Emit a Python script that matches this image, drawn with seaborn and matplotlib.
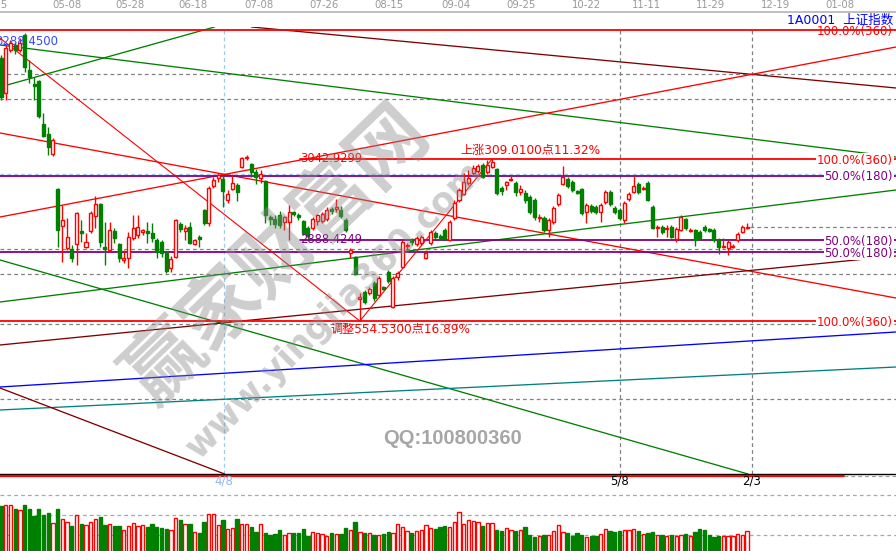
import matplotlib
matplotlib.use("Agg")
import matplotlib.pyplot as plt
import numpy as np
import pandas as pd
import seaborn as sns

sns.set_theme(style="white")
plt.rcParams["font.family"] = ["DejaVu Sans", "Noto Sans CJK SC"]

# ---------------- daily bars: 上证指数 ----------------
opens = [
    3235.6, 3168.8, 3250.8, 3260.4, 3250.8, 3279.4, 3212.7, 3186.0, 3191.7, 3109.7,
    3090.6, 3052.5, 2985.7, 2915.1, 2873.2, 2871.3, 2880.8, 2905.6, 2875.1, 2905.6,
    2934.2, 2957.1, 2875.1, 2869.4, 2905.6, 2880.8, 2850.3, 2854.1, 2892.3, 2898.0,
    2903.7, 2905.6, 2901.8, 2888.4, 2884.6, 2863.6, 2835.0, 2856.0, 2918.9, 2905.6,
    2913.2, 2880.8, 2894.2, 2945.6, 2920.9, 2991.4, 3006.7, 3004.8, 2964.7, 2985.7,
    2993.3, 3027.7, 3044.8, 3033.4, 3018.1, 3006.7, 3000.9, 2932.3, 2928.5, 2936.1,
    2922.8, 2922.8, 2941.8, 2936.1, 2924.7, 2911.3, 2911.3, 2924.7, 2924.7, 2928.5,
    2947.5, 2947.5, 2945.6, 2926.6, 2863.6, 2856.0, 2775.9, 2789.2, 2787.3, 2806.4,
    2783.5, 2798.8, 2827.4, 2760.6, 2817.9, 2836.9, 2877.0, 2888.4, 2880.8, 2882.7,
    2854.1, 2882.7, 2901.8, 2896.1, 2907.5, 2888.4, 2930.4, 2964.7, 2976.1, 2997.1,
    3016.2, 3020.0, 3031.5, 3018.1, 3027.7, 3023.8, 2987.6, 2993.3, 3002.9, 2997.1,
    2979.9, 2978.0, 2970.4, 2964.7, 2930.4, 2930.4, 2907.5, 2922.8, 2957.1, 2995.2,
    3004.8, 2999.0, 2981.9, 2985.7, 2941.8, 2953.3, 2951.4, 2941.8, 2960.9, 2979.9,
    2949.4, 2945.6, 2926.6, 2966.6, 2979.9, 2995.2, 2985.7, 2997.1, 2951.4, 2911.3,
    2913.2, 2909.4, 2913.2, 2890.4, 2907.5, 2928.5, 2905.6, 2907.5, 2903.7, 2913.2,
    2909.4, 2907.5, 2888.4, 2875.1, 2873.2, 2875.1, 2888.4, 2903.7, 2911.3,
]
highs = [
    3241.3, 3260.4, 3269.9, 3266.1, 3273.7, 3283.3, 3231.8, 3199.3, 3193.6, 3130.7,
    3103.9, 3083.0, 2987.6, 2955.2, 2930.4, 2878.9, 2941.8, 2926.6, 2901.8, 2943.7,
    2972.3, 2959.0, 2922.8, 2922.8, 2911.3, 2882.7, 2869.4, 2903.7, 2936.1, 2936.1,
    2909.4, 2922.8, 2920.9, 2892.3, 2888.4, 2867.5, 2857.9, 2928.5, 2922.8, 2917.0,
    2922.8, 2890.4, 2898.0, 2947.5, 2991.4, 3008.6, 3016.2, 3012.4, 2983.8, 3014.3,
    2997.1, 3046.7, 3050.6, 3035.3, 3023.8, 3021.9, 3002.9, 2936.1, 2936.1, 2943.7,
    2934.2, 2955.2, 2943.7, 2939.9, 2926.6, 2915.1, 2932.3, 2938.0, 2941.8, 2951.4,
    2951.4, 2966.6, 2953.3, 2930.4, 2873.2, 2857.9, 2787.3, 2793.1, 2798.8, 2810.2,
    2819.8, 2800.7, 2831.2, 2819.8, 2829.3, 2888.4, 2882.7, 2892.3, 2896.1, 2898.0,
    2869.4, 2907.5, 2905.6, 2899.9, 2911.3, 2926.6, 2964.7, 2987.6, 3016.2, 3021.9,
    3031.5, 3033.4, 3035.3, 3041.0, 3042.93, 3025.8, 2991.4, 3000.9, 3012.4, 3000.9,
    2993.3, 2983.8, 2974.2, 2968.5, 2938.0, 2934.2, 2930.4, 2953.3, 2978.0, 3029.6,
    3008.6, 3002.9, 2983.8, 2987.6, 2959.0, 2957.1, 2955.2, 2959.0, 2983.8, 2983.8,
    2953.3, 2949.4, 2962.8, 2979.9, 3010.5, 2999.0, 2991.4, 3000.9, 2955.2, 2917.0,
    2917.0, 2917.0, 2917.0, 2913.2, 2936.1, 2930.4, 2911.3, 2909.4, 2907.5, 2917.0,
    2911.3, 2911.3, 2892.3, 2892.3, 2888.4, 2880.8, 2903.7, 2917.0, 2920.9,
]
lows = [
    3155.5, 3155.5, 3247.0, 3243.2, 3247.0, 3208.9, 3187.9, 3155.5, 3121.1, 3084.9,
    3050.6, 3048.6, 2875.1, 2846.5, 2869.4, 2846.5, 2840.8, 2884.6, 2873.2, 2901.8,
    2911.3, 2875.1, 2840.8, 2865.6, 2882.7, 2846.5, 2844.6, 2835.0, 2888.4, 2892.3,
    2898.0, 2882.7, 2884.6, 2854.1, 2856.0, 2825.5, 2827.4, 2854.1, 2903.7, 2888.4,
    2880.8, 2878.9, 2875.1, 2917.0, 2915.1, 2987.6, 2999.0, 2951.4, 2959.0, 2983.8,
    2962.8, 3025.8, 3041.0, 3008.6, 2995.2, 2997.1, 2920.9, 2917.0, 2911.3, 2911.3,
    2907.5, 2888.4, 2934.2, 2926.6, 2898.0, 2888.4, 2907.5, 2917.0, 2920.9, 2924.7,
    2938.0, 2941.8, 2930.4, 2903.7, 2854.1, 2821.7, 2733.92, 2766.3, 2783.5, 2772.1,
    2779.7, 2793.1, 2806.4, 2758.7, 2812.2, 2835.0, 2869.4, 2878.9, 2877.0, 2878.9,
    2852.2, 2878.9, 2888.4, 2888.4, 2888.4, 2886.5, 2926.6, 2960.9, 2974.2, 2993.3,
    3012.4, 3016.2, 3006.7, 3014.3, 3025.8, 2974.2, 2974.2, 2983.8, 3000.9, 2972.3,
    2974.2, 2959.0, 2938.0, 2926.6, 2922.8, 2903.7, 2894.2, 2918.9, 2953.3, 2993.3,
    2987.6, 2979.9, 2976.1, 2936.1, 2920.9, 2939.9, 2938.0, 2922.8, 2957.1, 2953.3,
    2938.0, 2926.6, 2920.9, 2962.8, 2978.0, 2976.1, 2983.8, 2962.8, 2909.4, 2894.2,
    2899.9, 2894.2, 2892.3, 2884.6, 2905.6, 2907.5, 2903.7, 2877.0, 2888.4, 2903.7,
    2903.7, 2884.6, 2861.7, 2873.2, 2859.8, 2873.2, 2884.6, 2901.8, 2909.4,
]
closes = [
    3161.2, 3254.7, 3264.2, 3250.8, 3264.2, 3218.4, 3199.3, 3182.2, 3124.9, 3086.8,
    3065.8, 3079.2, 2907.5, 2926.6, 2894.2, 2854.1, 2939.9, 2901.8, 2884.6, 2939.9,
    2957.1, 2884.6, 2871.3, 2907.5, 2892.3, 2854.1, 2854.1, 2894.2, 2911.3, 2913.2,
    2907.5, 2901.8, 2892.3, 2865.6, 2863.6, 2829.3, 2852.2, 2926.6, 2909.4, 2911.3,
    2882.7, 2888.4, 2890.4, 2920.9, 2987.6, 3002.9, 3012.4, 2981.9, 2976.1, 2997.1,
    2979.9, 3044.8, 3046.7, 3018.1, 3008.6, 3014.3, 2936.1, 2928.5, 2918.9, 2917.0,
    2932.3, 2941.8, 2938.0, 2932.3, 2901.8, 2896.1, 2928.5, 2936.1, 2938.0, 2945.6,
    2943.7, 2951.4, 2934.2, 2907.5, 2869.4, 2823.6, 2779.7, 2770.2, 2795.0, 2777.8,
    2816.0, 2795.0, 2810.2, 2816.0, 2825.5, 2884.6, 2878.9, 2884.6, 2892.3, 2894.2,
    2863.6, 2903.7, 2894.2, 2892.3, 2890.4, 2922.8, 2959.0, 2983.8, 2999.0, 3006.7,
    3025.8, 3029.6, 3008.6, 3031.5, 3037.2, 2978.0, 2981.9, 2999.0, 3004.8, 2979.9,
    2985.7, 2964.7, 2941.8, 2932.3, 2932.3, 2907.5, 2926.6, 2949.4, 2974.2, 3008.6,
    2991.4, 2983.8, 2978.0, 2939.9, 2955.2, 2943.7, 2941.8, 2955.2, 2979.9, 2957.1,
    2941.8, 2930.4, 2959.0, 2976.1, 2991.4, 2979.9, 2987.6, 2964.7, 2911.3, 2913.2,
    2903.7, 2911.3, 2894.2, 2909.4, 2932.3, 2911.3, 2907.5, 2888.4, 2892.3, 2907.5,
    2905.6, 2888.4, 2875.1, 2877.0, 2884.6, 2877.0, 2899.9, 2913.2, 2913.2,
]
volumes = [
    245, 250, 250, 230, 225, 250, 230, 195, 230, 200,
    210, 160, 230, 180, 165, 145, 200, 155, 150, 165,
    180, 190, 150, 155, 145, 145, 125, 145, 160, 145,
    150, 140, 155, 140, 135, 130, 125, 185, 175, 155,
    155, 115, 110, 165, 205, 205, 150, 175, 130,
    135, 180, 155, 155, 140, 115, 155, 110, 100,
    105, 125, 100, 110, 110, 110, 130, 95, 115, 110,
    105, 95, 110, 105, 105, 135, 125, 165, 115, 110,
    110, 100, 100, 105, 115, 110, 155, 140, 120, 110,
    120, 125, 150, 135, 130, 140, 145,
    140, 165, 215, 155, 175, 170, 165, 145, 160, 160,
    125, 120, 135, 125, 120, 125, 140, 100, 90, 95,
    100, 100, 120, 150, 115, 110, 95, 110, 100, 90,
    95, 95, 105, 130, 120, 115, 120, 125, 125, 130,
    120, 105, 110, 115, 100, 100, 95, 100, 95, 100,
    105, 95, 115, 130, 125, 100, 90, 95, 95, 95,
    95, 105, 100, 120,
]

# top date axis
date_labels = ["04-15", "05-08", "05-28", "06-18", "07-08", "07-26", "08-15",
               "09-04", "09-25", "10-22", "11-11", "11-29", "12-19", "01-08"]
date_pos = [-1.6, 13.98, 27.32, 40.66, 54.64, 68.40, 82.17,
            96.36, 110.12, 123.89, 136.60, 150.36, 164.13, 177.69]

# time-cycle markers
cycle_labels = ["4/8", "5/8", "2/3"]
cycle_pos = [47.23, 131.09, 159.04]

# swing points (bar index, price)
swing_idx = [-2.33, 76, 104]
swing_price = [3288.45, 2733.92, 3042.9299]
swing_labels = ["3288.4500", "3042.9299"]
move_labels = ["上涨309.0100点11.32%", "调整554.5300点16.89%"]

# percentage levels
level_values = [3288.45, 3042.9299, 3011.19, 2888.4249, 2865.5, 2733.92]
level_texts = ["100.0%(360)", "100.0%(360)", "50.0%(180)", "50.0%(180)", "50.0%(180)", "100.0%(360)"]
level_start = [None, 63.3, None, 63.3, None, None]
level_kind = ["full", "full", "half", "half", "half", "full"]

grid_levels = [3205.1, 3157.4, 2871.3, 2823.6, 2728.2, 2585.1]
cursor_level = 3014.3

# angle lines through two anchor points (bar index, price)
angle_x0 = [-0.212, -0.212, 55.27, -0.212, -0.212, -0.212, -0.212, -0.212, -0.212, -0.212, -0.212]
angle_p0 = [3180.27, 3260.38, 3292.81, 2932.29, 3092.52, 2770.15, 2850.27, 2688.13, 2608.02, 2564.14, 2606.11]
angle_x1 = [44.47, 189.55, 189.55, 189.55, 189.55, 189.55, 158.2, 189.55, 189.55, 189.55, 46.8]
angle_p1 = [3292.81, 3046.74, 3178.36, 3256.57, 2777.78, 2983.79, 2442.06, 2857.9, 2712.93, 2646.17, 2443.97]
angle_colors = ["#008000", "#008000", "#800000", "#ff0000", "#ff0000", "#008000",
                "#008000", "#800000", "#0000ff", "#008080", "#800000"]

RED, GREEN, PURPLE = "#ff0000", "#008000", "#800080"

df = pd.DataFrame({"open": opens, "high": highs, "low": lows,
                   "close": closes, "volume": volumes})
df["idx"] = np.arange(len(df))
df["up"] = df["close"] >= df["open"]
edge = np.where(df["up"], RED, GREEN)
face = np.where(df["up"], "white", GREEN)

W, H = 896, 551
fig = plt.figure(figsize=(W / 100, H / 100), dpi=100)
fig.patch.set_facecolor("white")


def band(top_px, bottom_px):
    return [0, 1 - bottom_px / H, 1, (bottom_px - top_px) / H]


XMIN, XMAX = -0.212, 189.55
ax = fig.add_axes(band(27, 474))
axv = fig.add_axes(band(490, 551))
axt = fig.add_axes(band(0, 12))
for a in (ax, axv, axt):
    a.set_xlim(XMIN, XMAX)
    a.set_xticks([])
    a.set_yticks([])
    a.set_facecolor("none")
    for s in a.spines.values():
        s.set_visible(False)
ax.set_ylim(2442.06, 3294.7)
axv.set_ylim(20, 325)
axt.set_ylim(0, 1)

# ---- top date strip ----
axt.spines["bottom"].set_visible(True)
axt.spines["bottom"].set_color("#b4b4b4")
axt.spines["bottom"].set_linewidth(1.2)
for lab, pos in zip(date_labels, date_pos):
    axt.text(pos, 0.55, lab, ha="center", va="center", fontsize=7.3, color="#9a9a9a")

fig.text(893 / W, 1 - 20 / H, "1A0001  上证指数", ha="right", va="center",
         fontsize=9, color="#0000ff")

# ---- price panel ----
ax.spines["bottom"].set_visible(True)
ax.spines["bottom"].set_color("black")
ax.spines["bottom"].set_linewidth(1.0)
ax.plot([0, 844 / W], [-0.0035, -0.0035], transform=ax.transAxes, color=RED,
        lw=1.6, clip_on=False, zorder=3)
ax.plot([844 / W, 1], [-0.0035, -0.0035], transform=ax.transAxes, color="#a0a0a0",
        lw=0.9, ls=(0, (3, 2.5)), clip_on=False, zorder=3)

dash = (0, (3, 2.5))
for g in grid_levels:
    ax.axhline(g, color="#808080", lw=0.9, ls=dash, zorder=1)
ax.axhline(cursor_level, color="#9cc8f4", lw=0.9, ls=dash, zorder=1)
last_close = df["close"].iloc[-1]
ax.plot([158.6, XMAX], [last_close, last_close], color="#808080", lw=0.9, ls=dash, zorder=1)

for pos, lab in zip(cycle_pos, cycle_labels):
    c = "#9cc8f4" if lab == "4/8" else "#808080"
    ax.axvline(pos, color=c, lw=0.9, ls=dash, zorder=1)
    ax.annotate(lab, xy=(pos, 0), xycoords=("data", "axes fraction"),
                xytext=(0, -5.2), textcoords="offset points", ha="center", va="center",
                fontsize=8.5, color="#8fb8e8" if lab == "4/8" else "black",
                annotation_clip=False)

for x0, p0, x1, p1, c in zip(angle_x0, angle_p0, angle_x1, angle_p1, angle_colors):
    ax.axline((x0, p0), (x1, p1), color=c, lw=0.95, zorder=2)

for val, start, kind in zip(level_values, level_start, level_kind):
    c = RED if kind == "full" else PURPLE
    x0 = XMIN if start is None else start
    ax.plot([x0, XMAX], [val, val], color=c, lw=1.3, zorder=3)

sns.lineplot(x=swing_idx, y=swing_price, ax=ax, color=RED, lw=0.8, sort=False,
             estimator=None, zorder=4)

# swing-high label sits under the candles
ax.annotate(swing_labels[0], xy=(-1.27, swing_price[0]), xytext=(0, -3.6),
            textcoords="offset points", ha="left", va="top", fontsize=8.5,
            color="#2f4dff", zorder=5.5, annotation_clip=False)

# candles
ax.vlines(df["idx"], df["low"], df["high"], colors=edge, lw=1.0, zorder=5)
body_lo = np.minimum(df["open"], df["close"])
body_h = np.maximum((df["close"] - df["open"]).abs(), 0.6)
ax.bar(df["idx"], body_h, bottom=body_lo, width=0.64, color=face,
       edgecolor=edge, linewidth=1.0, zorder=6)

# level labels on the right
for val, txt, kind in zip(level_values, level_texts, level_kind):
    c = RED if kind == "full" else PURPLE
    box = None if val == level_values[0] else dict(facecolor="white", edgecolor="none", pad=0.4)
    ax.annotate(txt, xy=(1, val), xycoords=("axes fraction", "data"),
                xytext=(-2.2, -0.8), textcoords="offset points", ha="right", va="center",
                fontsize=8.5, color=c, bbox=box, zorder=8)

ax.text(63.3, level_values[1], swing_labels[1], ha="left", va="center",
        fontsize=8.3, color=RED, zorder=7)
ax.text(63.3, level_values[3], f"{level_values[3]:.4f}", ha="left", va="center",
        fontsize=8.3, color=PURPLE, zorder=7)

ax.annotate(move_labels[0], xy=(97.2, swing_price[2]), xytext=(0, 1.2),
            textcoords="offset points", ha="left", va="bottom", fontsize=8.7,
            color=RED, zorder=7)
ax.annotate(move_labels[1], xy=(69.7, swing_price[1]), xytext=(0, -1.2),
            textcoords="offset points", ha="left", va="top", fontsize=8.7,
            color=RED, zorder=7)

# ---- volume panel ----
for g in (100, 200, 300):
    axv.axhline(g, color="#a8a8a8", lw=0.9, ls=dash, zorder=0)
axv.bar(df["idx"], df["volume"], width=0.7, color=face, edgecolor=edge,
        linewidth=1.0, zorder=2)

# ---- site watermark ----
fig.text(277 / W, 1 - 255 / H, "赢家财富网", rotation=44, rotation_mode="anchor",
         ha="center", va="center", fontsize=56, fontweight="bold",
         family=["Noto Sans CJK SC"], color="#8a8a8a", alpha=0.42, zorder=20)
fig.text(335 / W, 1 - 310 / H, "www.yingjia360.com", rotation=45, rotation_mode="anchor",
         ha="center", va="center", fontsize=25, fontweight="bold",
         color="#8a8a8a", alpha=0.42, zorder=20)
fig.text(452 / W, 1 - 439 / H, "QQ:100800360", ha="center", va="center",
         fontsize=14.5, fontweight="bold", family=["Liberation Sans"],
         color="#a6a6a6", zorder=20)

fig.savefig("out.png", dpi=100, facecolor="white")
